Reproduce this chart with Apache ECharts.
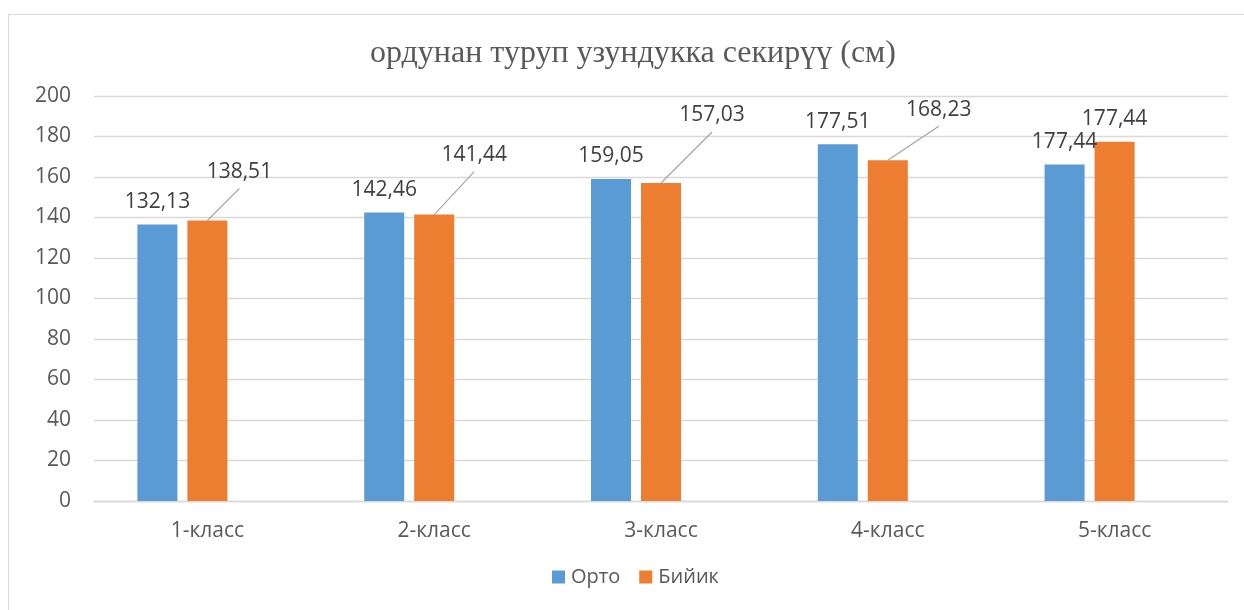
<!DOCTYPE html>
<html>
<head>
<meta charset="utf-8">
<title>ордунан туруп узундукка секирүү</title>
<script src="https://cdn.jsdelivr.net/npm/echarts@6/dist/echarts.min.js"></script>
<style>
  html, body { margin: 0; padding: 0; background: #fff; }
  #chart { width: 1244px; height: 610px; }
</style>
</head>
<body>
<div id="chart"></div>
<script>
// данные графика
const classes = ['1-класс', '2-класс', '3-класс', '4-класс', '5-класс']
const ortoValues = [136.6, 142.46, 159.05, 176.2, 166.2]     // высота синих столбцов
const biyikValues = [138.51, 141.44, 157.03, 168.23, 177.44] // высота оранжевых столбцов
const ortoLabels = ['132,13', '142,46', '159,05', '177,51', '177,44']
const biyikLabels = ['138,51', '141,44', '157,03', '168,23', '177,44']
const yTicks = [0, 20, 40, 60, 80, 100, 120, 140, 160, 180, 200]

// сдвиг подписей оранжевой серии (в пикселях), как в исходной диаграмме
const biyikShift = [[32, -26], [40, -37], [51, -45], [51, -28], [0, 0]]

const font = 'Open Sans'
const chart = echarts.init(document.getElementById('chart'))

const option = {
  animation: false,
  backgroundColor: '#fff',
  graphic: [
    { // рамка диаграммы
      type: 'rect',
      shape: { x: 8.5, y: 14.5, width: 1260, height: 620 },
      style: { fill: 'none', stroke: '#d9d9d9', lineWidth: 1 },
      silent: true,
      z: -10
    }
  ],
  title: {
    text: 'ордунан туруп узундукка секирүү (см)',
    left: 370,
    top: 38,
    padding: 0,
    textStyle: {
      fontFamily: 'Liberation Serif',
      fontSize: 32,
      fontWeight: 'normal',
      color: '#595959'
    }
  },
  legend: {
    data: ['Орто', 'Бийик'],
    left: 552,
    top: 567,
    padding: 0,
    itemWidth: 13,
    itemHeight: 13,
    itemGap: 19,
    icon: 'rect',
    textStyle: { fontFamily: font, fontSize: 20, color: '#595959', padding: [0, 0, 0, 1] }
  },
  grid: { left: 94, right: 16, top: 96, bottom: 109, containLabel: false },
  xAxis: {
    type: 'category',
    data: classes,
    axisTick: { show: false },
    axisLine: { lineStyle: { color: '#d9d9d9', width: 1.3 } },
    axisLabel: { fontFamily: font, fontSize: 21, color: '#595959', margin: 20 }
  },
  yAxis: {
    type: 'value',
    min: yTicks[0],
    max: yTicks[yTicks.length - 1],
    interval: yTicks[1] - yTicks[0],
    axisLine: { show: false },
    axisTick: { show: false },
    axisLabel: { fontFamily: font, fontSize: 21, color: '#595959', margin: 23 },
    splitLine: { lineStyle: { color: '#d9d9d9', width: 1.3 } }
  },
  series: [
    {
      name: 'Орто',
      type: 'bar',
      data: ortoValues,
      barWidth: 40,
      barGap: '25%',
      itemStyle: { color: '#5b9bd5' },
      label: {
        show: true,
        position: 'top',
        distance: 12,
        fontFamily: font,
        fontSize: 21,
        color: '#404040',
        formatter: (p) => ortoLabels[p.dataIndex]
      }
    },
    {
      name: 'Бийик',
      type: 'bar',
      data: biyikValues.map((v, i) => ({
        value: v,
        label: { offset: biyikShift[i] }
      })),
      barWidth: 40,
      barGap: '25%',
      itemStyle: { color: '#ed7d31' },
      label: {
        show: true,
        position: 'top',
        distance: 12,
        fontFamily: font,
        fontSize: 21,
        color: '#404040',
        formatter: (p) => biyikLabels[p.dataIndex]
      }
    },
    { // пустой третий ряд, как в Excel: занимает место справа в группе
      name: 'Ряд 3',
      type: 'bar',
      data: [],
      barWidth: 40,
      barGap: '25%'
    },
    { // выноски от подписей к оранжевым столбцам
      type: 'custom',
      silent: true,
      z: 3,
      data: biyikValues.map((v, i) => [i, v]),
      renderItem: (params, api) => {
        const s = biyikShift[params.dataIndex]
        if (s[0] === 0 && s[1] === 0) return null
        const p = api.coord([api.value(0), api.value(1)])
        return {
          type: 'line',
          shape: { x1: p[0], y1: p[1], x2: p[0] + s[0], y2: p[1] + s[1] - 6 },
          style: { stroke: '#a6a6a6', lineWidth: 1.2 }
        }
      }
    }
  ]
}

chart.setOption(option)
</script>
</body>
</html>
